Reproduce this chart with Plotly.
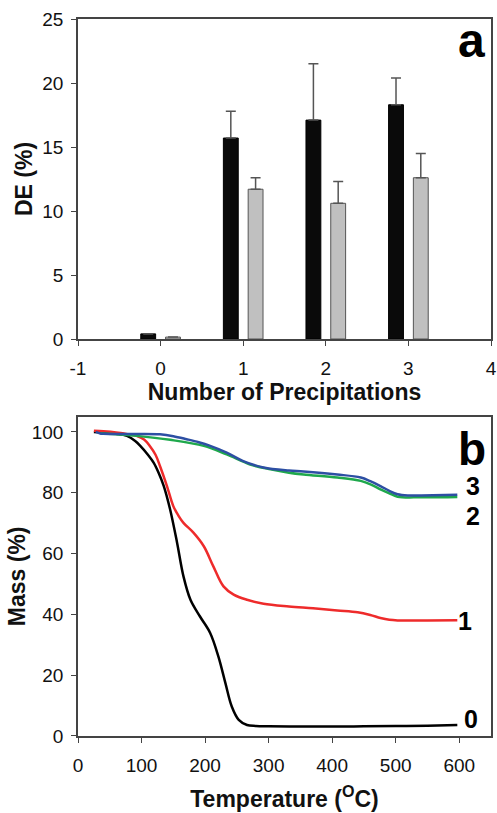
import plotly.graph_objects as go
from plotly.subplots import make_subplots

# ---- Panel a: DE (%) vs number of precipitations ----
precip = [0, 1, 2, 3]
de_black = [0.4, 15.7, 17.1, 18.3]
de_black_err = [0.0, 2.1, 4.4, 2.1]
de_gray = [0.15, 11.7, 10.6, 12.6]
de_gray_err = [0.0, 0.9, 1.7, 1.9]
x_ticks = [-1, 0, 1, 2, 3, 4]
x_ticktext = ["-1", "0", "1", "2", "3", "4"]

# ---- Panel b: TGA curves ----
t0 = [25, 40, 60, 77, 90, 98, 110, 119, 127, 135, 145, 156, 166, 177, 192, 208,
      221, 232, 242, 253, 266, 280, 300, 350, 400, 450, 500, 550, 597]
m0 = [100, 99.8, 99.4, 98.7, 97.0, 95.4, 92.5, 89.9, 86.5, 82.2, 74.5, 63.5, 52.5,
      44.8, 39.3, 33.9, 26.1, 17.4, 9.7, 5.3, 3.6, 3.3, 3.2, 3.1, 3.1, 3.2, 3.3, 3.4, 3.6]

t1 = [25, 40, 60, 80, 92, 104, 113, 122, 129, 140, 150, 158, 166, 182, 198, 213,
      229, 245, 266, 292, 332, 370, 408, 440, 460, 476, 490, 503, 550, 597]
m1 = [100.4, 100.2, 99.8, 99.2, 98.7, 97.5, 95.4, 92.5, 88.8, 82.2, 75.6, 72.5, 70.1,
      66.8, 62.4, 55.8, 49.2, 46.5, 44.8, 43.5, 42.6, 42.0, 41.3, 40.7, 39.8, 38.8,
      38.2, 38.0, 38.0, 38.1]

t2 = [35, 60, 92, 145, 198, 234, 271, 303, 332, 355, 408, 445, 462, 476, 490, 503, 540, 597]
m2 = [99.6, 99.2, 98.7, 97.4, 95.4, 92.6, 89.3, 87.7, 86.6, 86.0, 85.0, 83.9, 82.6,
      81.1, 79.8, 78.7, 78.5, 78.6]

t3 = [28, 35, 40, 80, 129, 150, 171, 190, 208, 234, 260, 292, 332, 355, 408, 445,
      460, 476, 490, 503, 520, 540, 597]
m3 = [100, 99.5, 99.4, 99.3, 99.2, 98.6, 97.6, 96.6, 95.4, 93.2, 90.4, 88.3, 87.3,
      87.0, 86.0, 85.0, 83.8, 82.2, 80.6, 79.5, 79.1, 79.1, 79.3]

curve_labels = ["0", "1", "2", "3"]
label_y = [5.6, 37.8, 72.3, 82.3]
label_x = [619, 609, 621, 621]

FONT = "Liberation Sans, Arial, sans-serif"
AX = "#444444"

fig = make_subplots(rows=2, cols=1, vertical_spacing=0.109)

fig.add_trace(go.Bar(
    x=precip, y=de_black, marker=dict(color="#0a0a0a", line=dict(color="#000000", width=1)),
    error_y=dict(type="data", array=de_black_err, arrayminus=[0] * 4, symmetric=False,
                 color="#555555", thickness=1.5, width=5, visible=True),
    showlegend=False), row=1, col=1)
fig.add_trace(go.Bar(
    x=precip, y=de_gray, marker=dict(color="#c0c0c0", line=dict(color="#555555", width=1)),
    error_y=dict(type="data", array=de_gray_err, arrayminus=[0] * 4, symmetric=False,
                 color="#555555", thickness=1.5, width=5, visible=True),
    showlegend=False), row=1, col=1)

for t, m, c in [(t0, m0, "#000000"), (t1, m1, "#ee2b2b"), (t2, m2, "#1fa84c"), (t3, m3, "#2d4fa3")]:
    fig.add_trace(go.Scatter(x=t, y=m, mode="lines", line=dict(color=c, width=2.5, shape="spline"),
                             showlegend=False), row=2, col=1)

fig.update_layout(
    width=497, height=813,
    margin=dict(l=78, r=6, t=19, b=77, autoexpand=False),
    paper_bgcolor="white", plot_bgcolor="white",
    barmode="group", bargap=0.4, bargroupgap=0.4,
    font=dict(family=FONT, size=19, color="#111111"),
)

axis_common = dict(showline=True, linecolor=AX, linewidth=1.5, mirror=True, ticks="outside",
                   ticklen=5, tickcolor=AX, tickwidth=1.2, showgrid=False, zeroline=False,
                   automargin=False,
                   tickfont=dict(family=FONT, size=19, color="#111111"))

fig.update_xaxes(range=[-1, 4], tickvals=x_ticks, ticktext=x_ticktext, ticklabelstandoff=6,
                 title=dict(text="<b>Number of Precipitations</b>", font=dict(size=23), standoff=2),
                 row=1, col=1, **axis_common)
fig.update_yaxes(range=[0, 25], dtick=5, ticklabelstandoff=4,
                 title=dict(text="<b>DE (%)</b>", font=dict(size=23), standoff=3),
                 row=1, col=1, **axis_common)
fig.update_xaxes(range=[0, 650], tickvals=[0, 100, 200, 300, 400, 500, 600], ticklabelstandoff=6,
                 title=dict(text="<b>Temperature (<sup>O</sup>C)</b>", font=dict(size=23), standoff=16),
                 row=2, col=1, **axis_common)
fig.update_yaxes(range=[0, 105], tickvals=[0, 20, 40, 60, 80, 100], ticklabelstandoff=4,
                 title=dict(text="<b>Mass (%)</b>", font=dict(size=23), standoff=0),
                 row=2, col=1, **axis_common)

fig.layout.yaxis.domain = [0.5537, 1.0]
fig.layout.yaxis2.domain = [0.0, 0.4453]

fig.add_annotation(x=3.764, y=23.3, xref="x", yref="y", text="<b>a</b>", showarrow=False,
                   font=dict(family=FONT, size=48, color="#000000"), xanchor="center", yanchor="middle")
fig.add_annotation(x=620, y=94.5, xref="x2", yref="y2", text="<b>b</b>", showarrow=False,
                   font=dict(family=FONT, size=46, color="#000000"), xanchor="center", yanchor="middle")
for lx, ly, lt in zip(label_x, label_y, curve_labels):
    fig.add_annotation(x=lx, y=ly, xref="x2", yref="y2", text="<b>" + lt + "</b>", showarrow=False,
                       font=dict(family=FONT, size=25, color="#000000"), xanchor="center", yanchor="middle")

fig.write_html("out.html", config={"displayModeBar": False},
               post_script="document.body.style.margin='0';document.body.style.overflow='hidden';")
